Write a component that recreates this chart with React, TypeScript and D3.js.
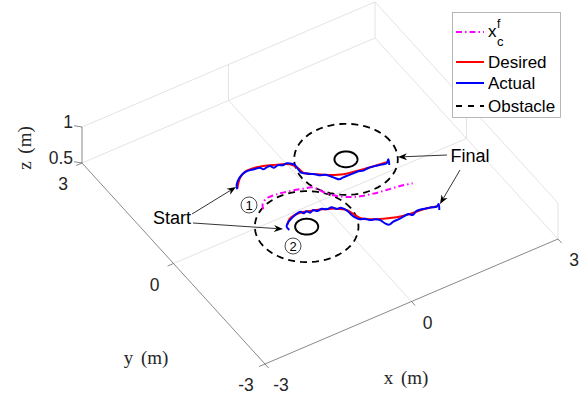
import React from 'react';
import * as d3 from 'd3';

const W = 587;
const H = 396;

// axis limits and ticks
const xTicks = [-3, 0, 3];
const yTicks = [-3, 0, 3];
const zTicks = [0.5, 1];
const xTickLabels = ['-3', '0', '3'];
const yTickLabels = ['-3', '0', '3'];
const zTickLabels = ['0.5', '1'];

// x_c^f (formation centre)
const centerPath: [number, number][] = [
  [-0.948, 0.341], [-0.886, 0.462], [-0.751, 0.547], [-0.55, 0.541], [-0.308, 0.49],
  [-0.08, 0.418], [0.061, 0.371], [0.116, 0.296], [0.17, 0.163], [0.273, 0.0],
  [0.447, -0.158], [0.653, -0.266], [0.885, -0.331], [1.131, -0.375], [1.382, -0.411],
  [1.604, -0.47],
];

// Robot 1 desired / actual
const desired1: [number, number][] = [
  [-1.049, 1.031], [-0.871, 1.228], [-0.713, 1.318], [-0.481, 1.305], [-0.206, 1.202],
  [0.05, 1.064], [0.119, 0.902], [0.134, 0.761], [0.31, 0.604], [0.497, 0.467],
  [0.703, 0.36], [1.065, 0.285], [1.504, 0.22],
];
const actual1: [number, number][] = [
  [-1.063, 1.009], [-1.015, 1.109], [-0.923, 1.201], [-0.806, 1.278], [-0.698, 1.31],
  [-0.606, 1.303], [-0.529, 1.284], [-0.438, 1.267], [-0.411, 1.201], [-0.335, 1.213],
  [-0.268, 1.211], [-0.231, 1.139], [-0.131, 1.156], [-0.072, 1.11], [0.014, 1.116],
  [0.083, 1.063], [0.115, 1.004], [0.106, 0.88], [0.1, 0.794], [0.15, 0.733],
  [0.215, 0.673], [0.284, 0.62], [0.345, 0.552], [0.427, 0.521], [0.483, 0.446],
  [0.53, 0.357], [0.576, 0.289], [0.662, 0.295], [0.762, 0.292], [0.863, 0.289],
  [0.964, 0.287], [1.047, 0.255], [1.156, 0.267], [1.281, 0.248], [1.398, 0.216],
  [1.489, 0.199], [1.568, 0.269], [1.506, 0.139],
];

// Robot 2 desired / actual
const desired2: [number, number][] = [
  [-0.804, -0.216], [-0.699, -0.113], [-0.576, -0.07], [-0.423, -0.075], [-0.253, -0.131],
  [-0.063, -0.21], [0.143, -0.317], [0.272, -0.438], [0.317, -0.585], [0.362, -0.732],
  [0.491, -0.853], [0.697, -0.96], [0.911, -1.054], [1.153, -1.105], [1.412, -1.127],
  [1.678, -1.193],
];
const actual2: [number, number][] = [
  [-0.842, -0.342], [-0.837, -0.246], [-0.763, -0.172], [-0.679, -0.125], [-0.585, -0.084],
  [-0.5, -0.057], [-0.429, -0.052], [-0.412, -0.112], [-0.336, -0.1], [-0.304, -0.159],
  [-0.219, -0.132], [-0.174, -0.19], [-0.079, -0.18], [-0.014, -0.24], [0.087, -0.243],
  [0.138, -0.325], [0.215, -0.333], [0.257, -0.408], [0.275, -0.489], [0.279, -0.591],
  [0.297, -0.672], [0.344, -0.761], [0.426, -0.792], [0.482, -0.867], [0.565, -0.898],
  [0.63, -0.959], [0.659, -1.076], [0.705, -1.144], [0.804, -1.117], [0.909, -1.112],
  [1.019, -1.101], [1.128, -1.089], [1.179, -1.151], [1.292, -1.101], [1.388, -1.111],
  [1.475, -1.136], [1.562, -1.16], [1.645, -1.192], [1.71, -1.153], [1.639, -1.288],
];

// Obstacles: centre x, centre y, obstacle radius, safety radius
const obstacleX = [0.943, -0.541];
const obstacleY = [0.658, -0.429];
const obstacleR = [0.2, 0.2];
const safetyR = [0.9, 0.9];

const ZFLOOR = 0.5;

// projection built from linear scales
const xToSx = d3.scaleLinear().domain([-3, 3]).range([0, 293]);
const yToSx = d3.scaleLinear().domain([3, -3]).range([0, 183]);
const xToSy = d3.scaleLinear().domain([-3, 3]).range([0, -125]);
const yToSy = d3.scaleLinear().domain([3, -3]).range([0, 201]);
const zToSy = d3.scaleLinear().domain([0.5, 1]).range([0, -36]);
const OX = 82;
const OY = 163;

function proj(x: number, y: number, z: number = ZFLOOR): [number, number] {
  return [OX + xToSx(x) + yToSx(y), OY + xToSy(x) + yToSy(y) + zToSy(z)];
}

const line2 = d3
  .line<[number, number]>()
  .x((d) => proj(d[0], d[1])[0])
  .y((d) => proj(d[0], d[1])[1]);

const smooth2 = d3
  .line<[number, number]>()
  .x((d) => proj(d[0], d[1])[0])
  .y((d) => proj(d[0], d[1])[1])
  .curve(d3.curveCatmullRom.alpha(0.5));

function circlePath(cx: number, cy: number, r: number): string {
  const pts: [number, number][] = d3.range(0, 361, 4).map((a) => {
    const t = (a * Math.PI) / 180;
    return [cx + r * Math.cos(t), cy + r * Math.sin(t)];
  });
  return line2(pts) || '';
}

function seg(a: [number, number, number], b: [number, number, number]) {
  const p = proj(a[0], a[1], a[2]);
  const q = proj(b[0], b[1], b[2]);
  return { x1: p[0], y1: p[1], x2: q[0], y2: q[1] };
}

const GRID = '#dcdcdc';
const AXIS = '#6b6b6b';
const SANS = 'Liberation Sans, Arial, Helvetica, sans-serif';
const SERIF = 'Liberation Serif, DejaVu Serif, serif';

// annotations (figure pixel layout)
const arrows: [number, number, number, number][] = [
  [192, 214, 236, 187],
  [193, 223, 283, 229],
  [447, 155, 398, 157],
  [460, 170, 440, 204],
];

function Arrow({ a }: { a: [number, number, number, number] }) {
  const [x1, y1, x2, y2] = a;
  const ang = Math.atan2(y2 - y1, x2 - x1);
  const L = 9;
  const Wd = 3.5;
  const bx = x2 - L * Math.cos(ang);
  const by = y2 - L * Math.sin(ang);
  const nx = -Math.sin(ang);
  const ny = Math.cos(ang);
  const notchX = x2 - L * 0.7 * Math.cos(ang);
  const notchY = y2 - L * 0.7 * Math.sin(ang);
  const head = `M${x2},${y2} L${bx + nx * Wd},${by + ny * Wd} L${notchX},${notchY} L${bx - nx * Wd},${by - ny * Wd} Z`;
  return (
    <g>
      <line x1={x1} y1={y1} x2={notchX} y2={notchY} stroke="#000" strokeWidth={0.8} />
      <path d={head} fill="#000" />
    </g>
  );
}

export default function App() {
  const gridLines = [
    seg([-3, 3, 0.5], [3, 3, 0.5]),
    seg([3, 3, 0.5], [3, -3, 0.5]),
    seg([0, 3, 0.5], [0, -3, 0.5]),
    seg([-3, 0, 0.5], [3, 0, 0.5]),
    seg([-3, 3, 1], [3, 3, 1]),
    seg([0, 3, 0.5], [0, 3, 1]),
    seg([3, 3, 0.5], [3, 3, 1]),
    seg([3, 3, 1], [3, -3, 1]),
    seg([3, 0, 0.5], [3, 0, 1]),
    seg([3, -3, 0.5], [3, -3, 1]),
  ];
  const axisLines = [
    seg([-3, 3, 0.5], [-3, -3, 0.5]),
    seg([-3, -3, 0.5], [3, -3, 0.5]),
    seg([-3, 3, 0.5], [-3, 3, 1]),
  ];

  return (
    <div style={{ position: 'absolute', left: 0, top: 0 }}>
      <svg width={W} height={H} viewBox={`0 0 ${W} ${H}`} style={{ display: 'block', background: '#fff' }}>
        <rect x={0} y={0} width={W} height={H} fill="#fff" />
        {gridLines.map((l, i) => (
          <line key={'g' + i} {...l} stroke={GRID} strokeWidth={0.8} />
        ))}
        {axisLines.map((l, i) => (
          <line key={'a' + i} {...l} stroke={AXIS} strokeWidth={0.8} />
        ))}
        {xTicks.map((t, i) => {
          const p = proj(t, -3);
          const q = proj(t, -3.12);
          return (
            <g key={'xt' + i}>
              <line x1={p[0]} y1={p[1]} x2={q[0]} y2={q[1]} stroke={AXIS} strokeWidth={0.8} />
              <text x={p[0] + 16} y={p[1] + 27} fontFamily={SANS} fontSize={17.5} textAnchor="middle" fill="#262626">
                {xTickLabels[i]}
              </text>
            </g>
          );
        })}
        {yTicks.map((t, i) => {
          const p = proj(-3, t);
          const q = proj(-3.12, t);
          return (
            <g key={'yt' + i}>
              <line x1={p[0]} y1={p[1]} x2={q[0]} y2={q[1]} stroke={AXIS} strokeWidth={0.8} />
              <text x={p[0] - 19} y={p[1] + 27} fontFamily={SANS} fontSize={17.5} textAnchor="middle" fill="#262626">
                {yTickLabels[i]}
              </text>
            </g>
          );
        })}
        {zTicks.map((t, i) => {
          const p = proj(-3, 3, t);
          const q = proj(-3.1, 3.1, t);
          return (
            <g key={'zt' + i}>
              <line x1={p[0]} y1={p[1]} x2={q[0]} y2={q[1]} stroke={AXIS} strokeWidth={0.8} />
              <text x={p[0] - 9} y={p[1] + 1} fontFamily={SANS} fontSize={17.5} textAnchor="end" fill="#262626">
                {zTickLabels[i]}
              </text>
            </g>
          );
        })}
        <text x={406} y={384} fontFamily={SERIF} fontSize={19} textAnchor="middle" fill="#262626" style={{ wordSpacing: '3px' }}>x (m)</text>
        <text x={146} y={364} fontFamily={SERIF} fontSize={19} textAnchor="middle" fill="#262626" style={{ wordSpacing: '3px' }}>y (m)</text>
        <text transform="translate(31,148) rotate(-90)" fontFamily={SERIF} fontSize={19} textAnchor="middle" fill="#262626" style={{ wordSpacing: '3px' }}>z (m)</text>

        {obstacleX.map((cx, i) => (
          <g key={'ob' + i}>
            <path d={circlePath(cx, obstacleY[i], safetyR[i])} fill="none" stroke="#000" strokeWidth={1.8} strokeDasharray="7 5" />
            <path d={circlePath(cx, obstacleY[i], obstacleR[i])} fill="none" stroke="#000" strokeWidth={2} />
          </g>
        ))}

        <path d={smooth2(centerPath) || ''} fill="none" stroke="#ff00ff" strokeWidth={2} strokeDasharray="6 3 1.5 3" />
        <path d={smooth2(desired1) || ''} fill="none" stroke="#ff0000" strokeWidth={2} />
        <path d={smooth2(desired2) || ''} fill="none" stroke="#ff0000" strokeWidth={2} />
        <path d={smooth2(actual1) || ''} fill="none" stroke="#0000ff" strokeWidth={2} />
        <path d={smooth2(actual2) || ''} fill="none" stroke="#0000ff" strokeWidth={2} />

        {arrows.map((a, i) => (
          <Arrow key={'ar' + i} a={a} />
        ))}
        <text x={172} y={224} fontFamily={SANS} fontSize={18} textAnchor="middle" fill="#000">Start</text>
        <text x={470} y={162} fontFamily={SANS} fontSize={18} textAnchor="middle" fill="#000">Final</text>
        <circle cx={249} cy={205} r={8} fill="none" stroke="#000" strokeWidth={0.7} />
        <text x={249} y={210} fontFamily={SANS} fontSize={13} textAnchor="middle" fill="#000">1</text>
        <circle cx={293} cy={246} r={8} fill="none" stroke="#000" strokeWidth={0.7} />
        <text x={293} y={251} fontFamily={SANS} fontSize={13} textAnchor="middle" fill="#000">2</text>

        <rect x={452.5} y={12.5} width={108} height={105} fill="#fff" stroke="#a6a6a6" strokeWidth={0.8} />
        <line x1={456} y1={32} x2={484} y2={32} stroke="#ff00ff" strokeWidth={2} strokeDasharray="6 3 1.5 3" />
        <text x={488} y={37} fontFamily={SANS} fontSize={17} fill="#000">x</text>
        <text x={497} y={28} fontFamily={SANS} fontSize={12} fill="#000">f</text>
        <text x={497} y={46} fontFamily={SANS} fontSize={13} fill="#000">c</text>
        <line x1={456} y1={62} x2={484} y2={62} stroke="#ff0000" strokeWidth={2} />
        <text x={488} y={68} fontFamily={SANS} fontSize={17} fill="#000">Desired</text>
        <line x1={456} y1={83} x2={484} y2={83} stroke="#0000ff" strokeWidth={2} />
        <text x={488} y={89} fontFamily={SANS} fontSize={17} fill="#000">Actual</text>
        <line x1={456} y1={106} x2={484} y2={106} stroke="#000" strokeWidth={2} strokeDasharray="6 6" />
        <text x={488} y={112} fontFamily={SANS} fontSize={17} fill="#000">Obstacle</text>
      </svg>
    </div>
  );
}
